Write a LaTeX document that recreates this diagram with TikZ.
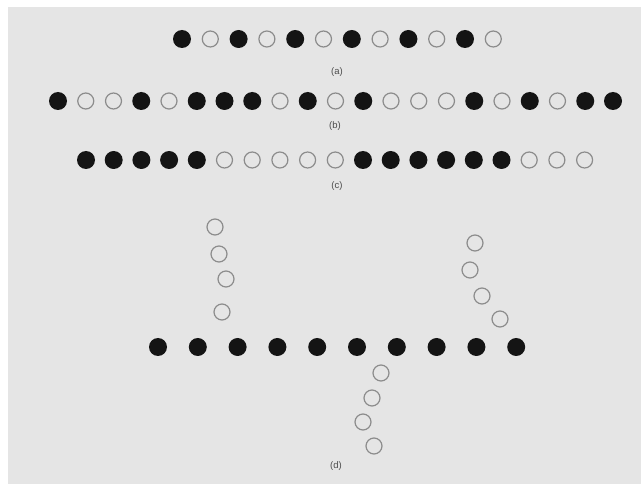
\documentclass[tikz,border=0pt]{standalone}
\usepackage{fontspec}
\setmainfont{Liberation Sans}

\begin{document}
\begin{tikzpicture}
[x=1pt, y=-1pt,
every node/.style = {align=center}]
\tikzstyle{full} = [circle, fill=black!92, inner sep=0pt, minimum size=18pt]
\tikzstyle{hollow} = [circle, draw=black!45, line width=1.2pt, inner sep=0pt, minimum size=16pt]
\tikzstyle{caption} = [font=\fontsize{9.5}{11}\selectfont, text=black!70]

\useasboundingbox (0,0) rectangle (641,484);
\fill[white] (0,0) rectangle (641,484);
\fill[black!10] (8,7) rectangle (641,484);

% row (a)
\foreach \s [count=\i] in {full,hollow,full,hollow,full,hollow,full,hollow,full,hollow,full,hollow}
	\node[\s] (a\i) at ({182+28.3*(\i-1)},39) {};
\node[caption] (capa) at (337,72) {(a)};

% row (b)
\foreach \s [count=\i] in {full,hollow,hollow,full,hollow,full,full,full,hollow,full,hollow,full,hollow,hollow,hollow,full,hollow,full,hollow,full,full}
	\node[\s] (b\i) at ({58+27.75*(\i-1)},101) {};
\node[caption] (capb) at (335,126) {(b)};

% row (c)
\foreach \s [count=\i] in {full,full,full,full,full,hollow,hollow,hollow,hollow,hollow,full,full,full,full,full,full,hollow,hollow,hollow}
	\node[\s] (c\i) at ({86+27.7*(\i-1)},160) {};
\node[caption] (capc) at (337,186) {(c)};

% row (d)
\foreach \i in {1,...,10}
	\node[full] (d\i) at ({158+39.8*(\i-1)},347) {};
\node[hollow] (l1) at (215,227) {};
\node[hollow] (l2) at (219,254) {};
\node[hollow] (l3) at (226,279) {};
\node[hollow] (l4) at (222,312) {};
\node[hollow] (r1) at (475,243) {};
\node[hollow] (r2) at (470,270) {};
\node[hollow] (r3) at (482,296) {};
\node[hollow] (r4) at (500,319) {};
\node[hollow] (m1) at (381,373) {};
\node[hollow] (m2) at (372,398) {};
\node[hollow] (m3) at (363,422) {};
\node[hollow] (m4) at (374,446) {};
\node[caption] (capd) at (336,466) {(d)};

\end{tikzpicture}
\end{document}
